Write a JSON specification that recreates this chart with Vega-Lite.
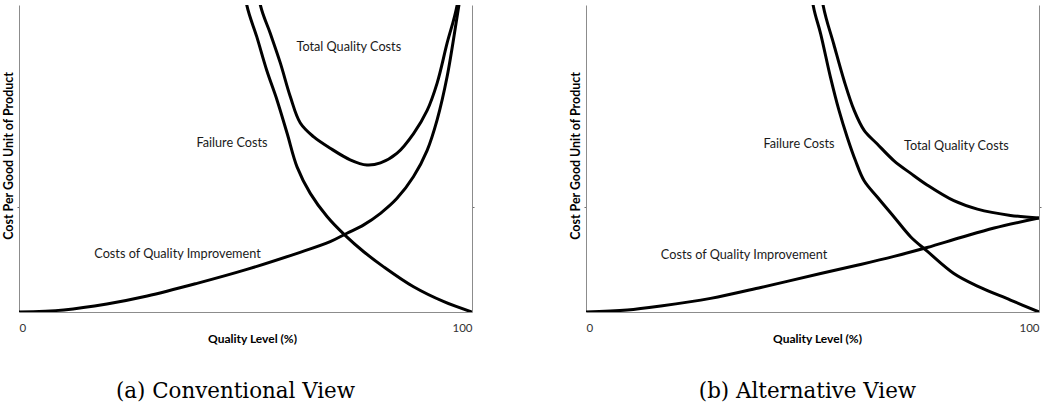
{
  "$schema": "https://vega.github.io/schema/vega-lite/v6.json",
  "background": "white",
  "padding": {"left": 2, "top": 5, "right": 5, "bottom": 5},
  "spacing": 114,
  "bounds": "flush",
  "config": {
    "view": {"stroke": null},
    "font": "Lato",
    "axis": {
      "domainColor": "#8c8c8c",
      "domainWidth": 1,
      "tickColor": "#6f6f6f",
      "grid": false,
      "labelFont": "Lato",
      "labelFontSize": 11.5,
      "labelColor": "#333333",
      "titleFont": "Lato",
      "titleFontWeight": "bold",
      "titleColor": "#000000"
    }
  },
  "datasets": {
    "conv": [
      {"series": "CQI", "q": 0, "c": 0},
      {"series": "CQI", "q": 9.9, "c": 0.02},
      {"series": "CQI", "q": 19.4, "c": 0.076},
      {"series": "CQI", "q": 28.3, "c": 0.152},
      {"series": "CQI", "q": 39.3, "c": 0.273},
      {"series": "CQI", "q": 50.3, "c": 0.406},
      {"series": "CQI", "q": 61.4, "c": 0.559},
      {"series": "CQI", "q": 68.7, "c": 0.67},
      {"series": "CQI", "q": 72.4, "c": 0.75},
      {"series": "CQI", "q": 76.1, "c": 0.83},
      {"series": "CQI", "q": 79.8, "c": 0.94},
      {"series": "CQI", "q": 83.4, "c": 1.08},
      {"series": "CQI", "q": 87.1, "c": 1.29},
      {"series": "CQI", "q": 90.1, "c": 1.54},
      {"series": "CQI", "q": 92.3, "c": 1.83},
      {"series": "CQI", "q": 94.5, "c": 2.24},
      {"series": "CQI", "q": 97.1, "c": 2.92},
      {"series": "CQI", "q": 100, "c": 3.7},
      {"series": "FC", "q": 48.5, "c": 3.5},
      {"series": "FC", "q": 50.3, "c": 2.92},
      {"series": "FC", "q": 52.5, "c": 2.62},
      {"series": "FC", "q": 54.7, "c": 2.3},
      {"series": "FC", "q": 56.95, "c": 2.02},
      {"series": "FC", "q": 59.2, "c": 1.7},
      {"series": "FC", "q": 61.4, "c": 1.38},
      {"series": "FC", "q": 64.3, "c": 1.13},
      {"series": "FC", "q": 68.0, "c": 0.91},
      {"series": "FC", "q": 72.0, "c": 0.73},
      {"series": "FC", "q": 76.1, "c": 0.574},
      {"series": "FC", "q": 80.5, "c": 0.43},
      {"series": "FC", "q": 87.1, "c": 0.24},
      {"series": "FC", "q": 93.8, "c": 0.098},
      {"series": "FC", "q": 100, "c": 0},
      {"series": "TQC", "q": 51.5, "c": 3.5},
      {"series": "TQC", "q": 53.3, "c": 2.92},
      {"series": "TQC", "q": 55.5, "c": 2.65},
      {"series": "TQC", "q": 57.7, "c": 2.37},
      {"series": "TQC", "q": 59.9, "c": 2.05},
      {"series": "TQC", "q": 62.1, "c": 1.8},
      {"series": "TQC", "q": 65.0, "c": 1.67},
      {"series": "TQC", "q": 68.7, "c": 1.56},
      {"series": "TQC", "q": 73.1, "c": 1.45},
      {"series": "TQC", "q": 76.8, "c": 1.4},
      {"series": "TQC", "q": 79.8, "c": 1.42},
      {"series": "TQC", "q": 83.4, "c": 1.51},
      {"series": "TQC", "q": 87.1, "c": 1.7},
      {"series": "TQC", "q": 90.1, "c": 1.92},
      {"series": "TQC", "q": 92.3, "c": 2.18},
      {"series": "TQC", "q": 94.5, "c": 2.56},
      {"series": "TQC", "q": 96.7, "c": 2.92},
      {"series": "TQC", "q": 99, "c": 3.7}
    ],
    "alt": [
      {"series": "CQI", "q": 0, "c": 0},
      {"series": "CQI", "q": 9.1, "c": 0.019},
      {"series": "CQI", "q": 16.5, "c": 0.057},
      {"series": "CQI", "q": 27.5, "c": 0.13},
      {"series": "CQI", "q": 38.6, "c": 0.234},
      {"series": "CQI", "q": 51.8, "c": 0.367},
      {"series": "CQI", "q": 60.6, "c": 0.453},
      {"series": "CQI", "q": 68.0, "c": 0.53},
      {"series": "CQI", "q": 75.3, "c": 0.614},
      {"series": "CQI", "q": 82.7, "c": 0.709},
      {"series": "CQI", "q": 90.1, "c": 0.8},
      {"series": "CQI", "q": 100, "c": 0.895},
      {"series": "FC", "q": 48.5, "c": 3.5},
      {"series": "FC", "q": 50.2, "c": 2.91},
      {"series": "FC", "q": 51.8, "c": 2.65},
      {"series": "FC", "q": 54.0, "c": 2.23},
      {"series": "FC", "q": 55.85, "c": 1.92},
      {"series": "FC", "q": 57.7, "c": 1.66},
      {"series": "FC", "q": 59.5, "c": 1.44},
      {"series": "FC", "q": 61.4, "c": 1.25},
      {"series": "FC", "q": 64.3, "c": 1.095},
      {"series": "FC", "q": 68.0, "c": 0.905},
      {"series": "FC", "q": 71.7, "c": 0.715},
      {"series": "FC", "q": 75.3, "c": 0.58},
      {"series": "FC", "q": 81.2, "c": 0.367},
      {"series": "FC", "q": 86.4, "c": 0.247},
      {"series": "FC", "q": 93.7, "c": 0.114},
      {"series": "FC", "q": 100, "c": 0},
      {"series": "TQC", "q": 50.7, "c": 3.5},
      {"series": "TQC", "q": 52.4, "c": 2.91},
      {"series": "TQC", "q": 54.7, "c": 2.55},
      {"series": "TQC", "q": 57.0, "c": 2.2},
      {"series": "TQC", "q": 59.2, "c": 1.92},
      {"series": "TQC", "q": 61.4, "c": 1.73},
      {"series": "TQC", "q": 64.3, "c": 1.6},
      {"series": "TQC", "q": 68.0, "c": 1.44},
      {"series": "TQC", "q": 71.7, "c": 1.32},
      {"series": "TQC", "q": 75.3, "c": 1.21},
      {"series": "TQC", "q": 81.2, "c": 1.06},
      {"series": "TQC", "q": 86.4, "c": 0.98},
      {"series": "TQC", "q": 93.7, "c": 0.92},
      {"series": "TQC", "q": 100, "c": 0.895}
    ],
    "convLabels": [
      {"q": 72.8, "c": 2.52, "label": "Total Quality Costs"},
      {"q": 47.0, "c": 1.61, "label": "Failure Costs"},
      {"q": 35.0, "c": 0.55, "label": "Costs of Quality Improvement"}
    ],
    "altLabels": [
      {"q": 47.0, "c": 1.6, "label": "Failure Costs"},
      {"q": 81.75, "c": 1.58, "label": "Total Quality Costs"},
      {"q": 34.9, "c": 0.547, "label": "Costs of Quality Improvement"}
    ]
  },
  "hconcat": [
    {
      "width": 453,
      "height": 307,
      "title": {"text": "(a) Conventional View", "orient": "bottom", "anchor": "middle", "font": "DejaVu Serif", "fontSize": 21.4, "fontWeight": "normal", "color": "#000000", "offset": 36, "dx": -10},
      "resolve": {"axis": {"y": "independent"}},
      "layer": [
        {
          "data": {"name": "conv"},
          "mark": {"type": "line", "clip": true, "interpolate": "catmull-rom", "color": "#000000", "strokeWidth": 3},
          "encoding": {
            "x": {"field": "q", "type": "quantitative", "scale": {"domain": [0, 100], "nice": false, "zero": false}, "axis": {"values": [0, 100], "ticks": false, "labelPadding": 10, "title": "Quality Level (%)", "titleFontSize": 12, "titlePadding": 0, "titleX": 233}},
            "y": {"field": "c", "type": "quantitative", "scale": {"domain": [0, 2.924], "nice": false}, "axis": {"orient": "left", "values": [1], "labels": false, "tickSize": 2, "title": "Cost Per Good Unit of Product", "titleFontSize": 12.4, "titlePadding": 1, "titleY": 150.5}},
            "detail": {"field": "series", "type": "nominal"},
            "order": {"field": "q", "type": "quantitative"}
          }
        },
        {
          "data": {"name": "convLabels"},
          "mark": {"type": "text", "font": "Lato", "fontSize": 12.7, "color": "#1a1a1a", "align": "center", "baseline": "middle"},
          "encoding": {
            "x": {"field": "q", "type": "quantitative"},
            "y": {"field": "c", "type": "quantitative", "axis": {"orient": "right", "values": [1], "labels": false, "tickSize": 2, "title": null}},
            "text": {"field": "label", "type": "nominal"}
          }
        }
      ]
    },
    {
      "width": 453,
      "height": 307,
      "title": {"text": "(b) Alternative View", "orient": "bottom", "anchor": "middle", "font": "DejaVu Serif", "fontSize": 21.4, "fontWeight": "normal", "color": "#000000", "offset": 36, "dx": -5},
      "resolve": {"axis": {"y": "independent"}},
      "layer": [
        {
          "data": {"name": "alt"},
          "mark": {"type": "line", "clip": true, "interpolate": "catmull-rom", "color": "#000000", "strokeWidth": 3},
          "encoding": {
            "x": {"field": "q", "type": "quantitative", "scale": {"domain": [0, 100], "nice": false, "zero": false}, "axis": {"values": [0, 100], "ticks": false, "labelPadding": 10, "title": "Quality Level (%)", "titleFontSize": 12, "titlePadding": 0, "titleX": 231}},
            "y": {"field": "c", "type": "quantitative", "scale": {"domain": [0, 2.924], "nice": false}, "axis": {"orient": "left", "values": [1], "labels": false, "tickSize": 2, "title": "Cost Per Good Unit of Product", "titleFontSize": 12.4, "titlePadding": 1, "titleY": 150.5}},
            "detail": {"field": "series", "type": "nominal"},
            "order": {"field": "q", "type": "quantitative"}
          }
        },
        {
          "data": {"name": "altLabels"},
          "mark": {"type": "text", "font": "Lato", "fontSize": 12.7, "color": "#1a1a1a", "align": "center", "baseline": "middle"},
          "encoding": {
            "x": {"field": "q", "type": "quantitative"},
            "y": {"field": "c", "type": "quantitative", "axis": {"orient": "right", "values": [1], "labels": false, "tickSize": 2, "title": null}},
            "text": {"field": "label", "type": "nominal"}
          }
        }
      ]
    }
  ]
}
